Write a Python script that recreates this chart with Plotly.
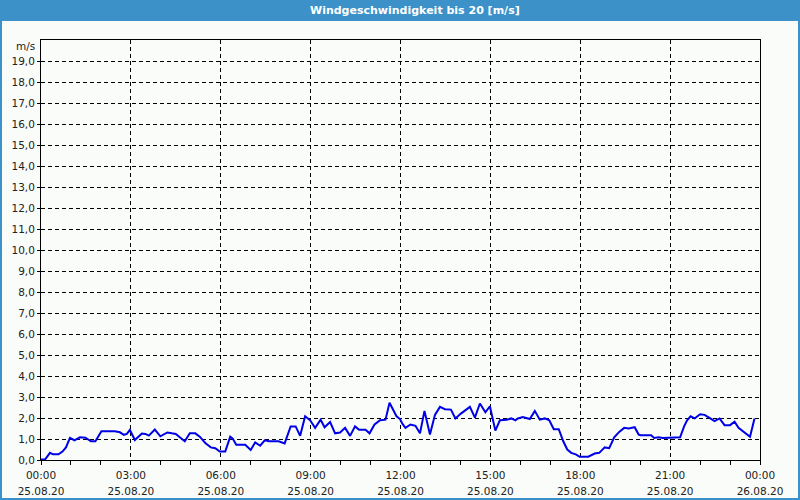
import plotly.graph_objects as go

# ---- data ----
times = ["00:00","00:08","00:18","00:24","00:35","00:43","00:50","00:58","01:07","01:18",
         "01:29","01:40","01:49","02:01","02:28","02:38","02:46","02:52","02:58","03:08",
         "03:22","03:29","03:36","03:48","03:59","04:13","04:22","04:30","04:38","04:48",
         "04:58","05:09","05:18","05:29","05:40","05:49","05:58","06:09","06:19","06:24",
         "06:31","06:49","07:00","07:09","07:19","07:28","07:37","07:56","08:08","08:20",
         "08:30","08:39","08:49","08:59","09:09","09:20","09:28","09:39","09:49","09:59",
         "10:09","10:19","10:29","10:37","10:50","10:58","11:08","11:19","11:30","11:38",
         "11:52","11:59","12:04","12:10","12:20","12:30","12:39","12:48","12:59","13:09",
         "13:19","13:29","13:41","13:50","14:01","14:10","14:19","14:29","14:39","14:50",
         "14:59","15:10","15:19","15:33","15:42","15:50","15:55","16:05","16:19","16:29",
         "16:39","16:49","16:58","17:07","17:17","17:26","17:34","17:42","17:51","17:59",
         "18:16","18:29","18:38","18:49","18:58","19:08","19:18","19:28","19:37","19:49",
         "19:57","20:01","20:22","20:28","20:37","20:45","21:00","21:06","21:20","21:28",
         "21:34","21:41","21:49","22:00","22:09","22:18","22:29","22:39","22:49","23:00",
         "23:09","23:17","23:30","23:40","23:49"]
speed = [0.02,0.02,0.34,0.27,0.27,0.40,0.60,1.05,0.94,1.08,
         1.06,0.89,0.89,1.37,1.37,1.32,1.20,1.24,1.43,0.95,
         1.26,1.24,1.16,1.45,1.13,1.31,1.27,1.24,1.08,0.89,
         1.27,1.27,1.11,0.81,0.60,0.56,0.40,0.40,1.11,1.02,
         0.73,0.73,0.48,0.84,0.68,0.94,0.89,0.89,0.79,1.60,
         1.60,1.15,2.08,1.89,1.53,1.92,1.56,1.81,1.27,1.31,
         1.53,1.15,1.60,1.44,1.44,1.27,1.69,1.89,1.92,2.73,
         2.08,1.95,1.72,1.53,1.69,1.63,1.27,2.34,1.21,2.15,
         2.53,2.42,2.40,1.98,2.21,2.37,2.53,2.02,2.69,2.27,
         2.56,1.40,1.89,1.92,1.98,1.89,1.98,2.05,1.95,2.34,
         1.92,1.98,1.89,1.47,1.47,0.89,0.50,0.34,0.27,0.15,
         0.16,0.31,0.34,0.60,0.56,1.08,1.34,1.53,1.50,1.56,
         1.21,1.18,1.18,1.05,1.08,1.05,1.05,1.08,1.08,1.60,
         1.89,2.08,1.98,2.18,2.15,2.02,1.85,1.98,1.66,1.66,
         1.82,1.53,1.31,1.11,1.98]

tick_times = ["2020-08-25 00:00","2020-08-25 03:00","2020-08-25 06:00","2020-08-25 09:00",
              "2020-08-25 12:00","2020-08-25 15:00","2020-08-25 18:00","2020-08-25 21:00",
              "2020-08-26 00:00"]
tick_hours = ["00:00","03:00","06:00","09:00","12:00","15:00","18:00","21:00","00:00"]
tick_dates = ["25.08.20","25.08.20","25.08.20","25.08.20","25.08.20",
              "25.08.20","25.08.20","25.08.20","26.08.20"]
y_ticks = list(range(0, 20))
title_text = "Windgeschwindigkeit bis 20 [m/s]"
unit_text = "m/s"

x = ["2020-08-25 " + t for t in times]

W, H = 800, 500
ML, MR, MT, MB = 41, 40, 40, 40
PW, PH = W - ML - MR, H - MT - MB
BLUE = "#3b91c8"
BG = "#f9fcf9"
FONT = "DejaVu Sans"
TXT = "#222222"
XRANGE = ["2020-08-25 00:00", "2020-08-26 00:00"]

def px2x(p):
    return (p - ML) / PW

def px2y(p):
    return (H - MB - p) / PH

fig = go.Figure()
fig.add_trace(go.Scatter(x=x, y=speed, mode="lines",
                         line=dict(color="#0000e6", width=2), hoverinfo="skip"))
# invisible trace on the second x axis so it gets drawn
fig.add_trace(go.Scatter(x=XRANGE, y=[None, None], xaxis="x2", yaxis="y",
                         mode="lines", hoverinfo="skip", showlegend=False))

fig.update_layout(
    width=W, height=H,
    margin=dict(l=ML, r=MR, t=MT, b=MB, autoexpand=False),
    paper_bgcolor=BG, plot_bgcolor=BG,
    showlegend=False,
    separators=", ",
    font=dict(family=FONT, size=10.5, color=TXT),
    xaxis=dict(
        range=XRANGE, automargin=False,
        tickmode="array", tickvals=tick_times, ticktext=tick_hours,
        ticks="outside", ticklen=4, tickcolor="black", ticklabelstandoff=1,
        showgrid=True, gridcolor="black", gridwidth=1, griddash="4px,3px",
        showline=True, linecolor="black", linewidth=1, mirror=True,
        zeroline=False,
        minor=dict(dtick=3600000, ticks="outside", ticklen=4, tickcolor="black", showgrid=False),
    ),
    xaxis2=dict(
        range=XRANGE, automargin=False, overlaying="x", anchor="y", side="bottom",
        tickmode="array", tickvals=tick_times, ticktext=tick_dates,
        ticks="outside", ticklen=4, tickcolor="rgba(0,0,0,0)", ticklabelstandoff=17,
        showgrid=False, showline=False, zeroline=False,
    ),
    yaxis=dict(
        range=[0, 20], automargin=False,
        tickmode="array", tickvals=y_ticks, tickformat=".1f",
        ticks="outside", ticklen=3, tickcolor="black",
        showgrid=True, gridcolor="black", gridwidth=1, griddash="4px,3px",
        showline=True, linecolor="black", linewidth=1, mirror=True,
        zeroline=False,
    ),
    shapes=[
        dict(type="rect", xref="paper", yref="paper",
             x0=px2x(0), x1=px2x(W), y0=px2y(21), y1=px2y(0),
             fillcolor=BLUE, line=dict(width=0), layer="below"),
        dict(type="rect", xref="paper", yref="paper",
             x0=px2x(1), x1=px2x(W - 1), y0=px2y(H - 1), y1=px2y(1),
             fillcolor="rgba(0,0,0,0)", line=dict(color=BLUE, width=2), layer="below"),
    ],
    annotations=[
        dict(text="<b>" + title_text + "</b>", xref="paper", yref="paper",
             x=px2x(415), y=px2y(10.5), xanchor="center", yanchor="middle",
             showarrow=False, font=dict(family=FONT, size=11, color="white")),
        dict(text=unit_text, xref="paper", yref="paper",
             x=px2x(37), y=px2y(46), xanchor="right", yanchor="middle",
             showarrow=False, font=dict(family=FONT, size=10.5, color=TXT)),
    ],
)

fig.write_html("out.html")
